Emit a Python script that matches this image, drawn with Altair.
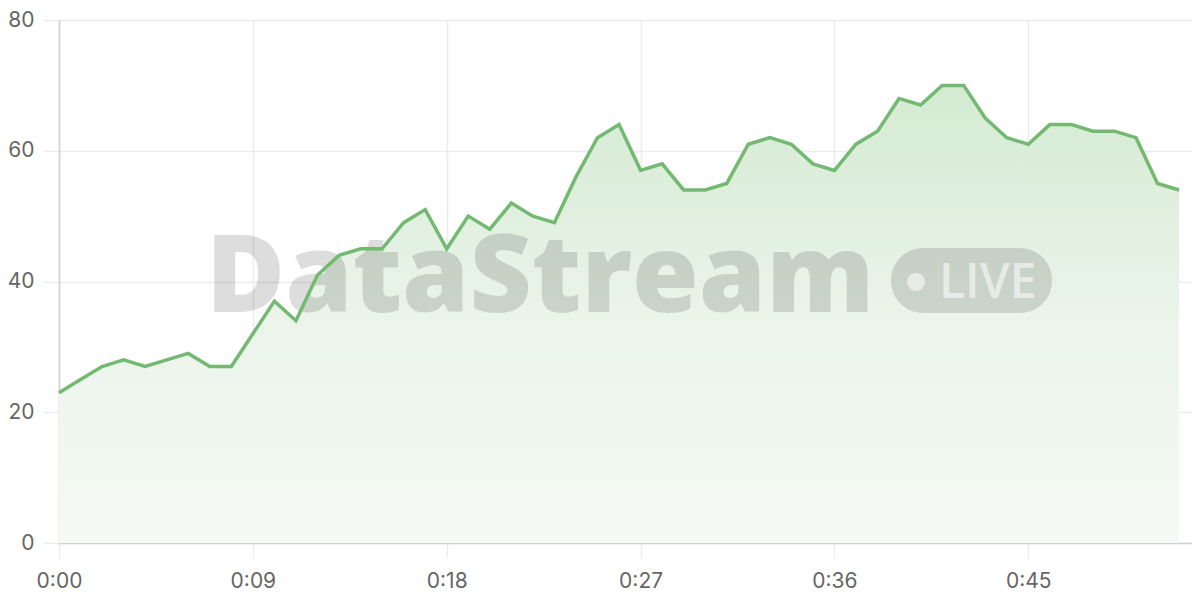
import altair as alt
import pandas as pd

# Data (value per second, 0:00 .. 0:52)
seconds = list(range(53))
values = [23, 25, 27, 28, 27, 28, 29, 27, 27, 32, 37, 34, 41, 44, 45, 45, 49, 51,
          45, 50, 48, 52, 50, 49, 56, 62, 64, 57, 58, 54, 54, 55, 61, 62, 61, 58,
          57, 61, 63, 68, 67, 70, 70, 65, 62, 61, 64, 64, 63, 63, 62, 55, 54]
x_ticks = [0, 9, 18, 27, 36, 45]
y_ticks = [0, 20, 40, 60, 80]

df = pd.DataFrame({"t": seconds, "v": values})

W, H = 1133, 523
FONT = "Inter"

x_enc = alt.X("t:Q", scale=alt.Scale(domain=[0, 52.6], nice=False, zero=False),
              axis=alt.Axis(values=x_ticks, title=None, labelFlush=False,
                            labelExpr="floor(datum.value/60) + ':' + (datum.value % 60 < 10 ? '0' : '') + (datum.value % 60)"))
y_enc = alt.Y("v:Q", scale=alt.Scale(domain=[0, 80], nice=False),
              axis=alt.Axis(values=y_ticks, title=None, labelFlush=False))

area = alt.Chart(df).mark_area(
    color=alt.Gradient(
        gradient="linear",
        stops=[alt.GradientStop(color="#f5faf4", offset=0),
               alt.GradientStop(color="#eaf4e9", offset=0.5),
               alt.GradientStop(color="#d4eAd2", offset=1)],
        x1=1, x2=1, y1=1, y2=0),
).encode(x=x_enc, y=y_enc)

line = alt.Chart(df).mark_line(color="#74b972", strokeWidth=3.5, strokeJoin="miter").encode(
    x=alt.X("t:Q"), y=alt.Y("v:Q"))

wm_text = alt.Chart(df.head(1)).mark_text(
    text="DataStream", font="Open Sans", fontWeight=800, fontSize=108,
    align="center", baseline="alphabetic", color="#000000", opacity=0.13
).encode(x=alt.value(481), y=alt.value(292))

badge = alt.Chart(df.head(1)).mark_rect(
    color="#000000", opacity=0.13, cornerRadius=32
).encode(x=alt.value(832), x2=alt.value(993), y=alt.value(228), y2=alt.value(293))

dot = alt.Chart(df.head(1)).mark_circle(
    color="#ffffff", opacity=0.55, size=330
).encode(x=alt.value(857), y=alt.value(262))

live = alt.Chart(df.head(1)).mark_text(
    text="LIVE", font="Open Sans", fontWeight=600, fontSize=48,
    align="left", baseline="alphabetic", color="#ffffff", opacity=0.55
).encode(x=alt.value(880), y=alt.value(278))

chart = alt.layer(area, wm_text, badge, dot, live, line).properties(
    width=W, height=H,
    autosize="none",
    padding={"left": 51, "top": 12, "right": 0, "bottom": 50},
).configure_view(stroke=None).configure_axis(
    labelFont=FONT, labelFontSize=21, labelColor="#666666",
    gridColor="#ececec", gridWidth=1.5,
    tickColor="#ececec", tickWidth=1.5,
    domainColor="#d0d0d0", domainWidth=1.5,
).configure_axisX(
    tickSize=15, labelPadding=12, labelBaseline="top",
).configure_axisY(
    tickSize=16, labelPadding=9,
)

chart.save("out.html", embed_options={"renderer": "svg", "actions": False})
